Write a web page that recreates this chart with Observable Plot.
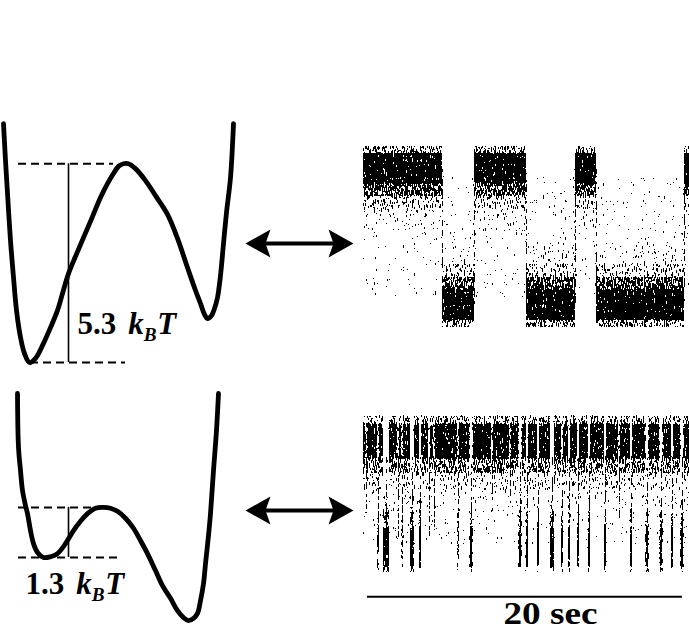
<!DOCTYPE html>
<html>
<head>
<meta charset="utf-8">
<script src="https://cdn.jsdelivr.net/npm/d3@7"></script>
<script src="https://cdn.jsdelivr.net/npm/@observablehq/plot@0.6"></script>
<style>
html, body { margin: 0; padding: 0; background: #fff; }
#fig { position: relative; width: 689px; height: 639px; overflow: hidden; background: #fff; }
#fig svg { position: absolute; left: 0; top: 0; background: transparent; overflow: visible; }
</style>
</head>
<body>
<div id="fig"></div>
<script>
// ---------------- DATA ----------------
// Barrier heights (kBT) for the two landscapes (top = slow, bottom = fast)
const barrierHeights = [5.3, 1.3];
const energyUnitLabel = "kBT";

// Top landscape: reaction coordinate (a.u.) and free energy (kBT)
const slowQ = [-2.30,-2.26,-2.22,-2.16,-2.10,-2.04,-1.96,-1.88,-1.78,-1.66,-1.50,-1.36,-1.22,-1.12,-1.00,-0.86,-0.70,-0.52,-0.36,-0.22,-0.10,0.00,0.10,0.20,0.34,0.54,0.74,0.98,1.18,1.38,1.54,1.64,1.72,1.78,1.86,1.92,1.98,2.04,2.10,2.16,2.24,2.30];
const slowE = [6.37,5.39,4.51,3.25,2.27,1.39,0.67,0.24,0.00,0.11,0.51,0.93,1.39,1.84,2.37,2.83,3.33,3.89,4.40,4.77,5.04,5.23,5.30,5.30,5.17,4.85,4.45,3.95,3.31,2.53,1.92,1.57,1.28,1.17,1.25,1.44,1.73,2.32,3.17,4.00,4.93,6.37];

// Bottom landscape
const fastQ = [-2.02,-2.00,-1.96,-1.92,-1.86,-1.82,-1.76,-1.70,-1.62,-1.50,-1.36,-1.22,-1.06,-0.90,-0.76,-0.62,-0.46,-0.30,-0.16,-0.02,0.14,0.30,0.44,0.58,0.74,0.88,1.04,1.18,1.30,1.40,1.50,1.58,1.64,1.70,1.74,1.80,1.84,1.90,1.96,2.00];
const fastE = [4.26,2.86,2.26,1.74,1.35,1.14,0.70,0.36,0.13,0.00,0.02,0.10,0.36,0.70,0.94,1.14,1.28,1.30,1.28,1.20,1.02,0.76,0.44,0.10,-0.34,-0.73,-1.06,-1.38,-1.56,-1.64,-1.58,-1.45,-1.12,-0.68,-0.16,0.57,1.14,2.26,3.30,4.26];

// Top time trace: dwells (seconds) and state
const slowDwellStart = [0, 5.02, 7.05, 10.35, 13.46, 14.79, 20.38];
const slowDwellEnd   = [5.02, 7.05, 10.35, 13.46, 14.79, 20.38, 20.7];
const slowDwellState = ["high", "low", "high", "low", "high", "low", "high"];

// Bottom time trace: brief dips out of the high state (center s, duration s, lowest level reached)
const fastDipTime     = [0.20, 0.95, 1.46, 2.22, 2.48, 3.11, 3.62, 4.19, 4.51, 6.03, 6.86, 8.19, 9.33, 9.97, 10.41, 11.11, 12.00, 12.63, 13.08, 13.65, 14.35, 15.37, 16.25, 17.02, 18.03, 18.92, 19.62, 20.25];
const fastDipDuration = [0.05, 0.07, 0.38, 0.07, 0.07, 0.25, 0.13, 0.10, 0.07, 0.07, 0.19, 0.07, 0.07, 0.19, 0.13, 0.13, 0.25, 0.10, 0.10, 0.10, 0.13, 0.13, 0.07, 0.13, 0.19, 0.19, 0.13, 0.19];
const fastDipReach    = [0.25, 0, 0, 0.10, 0.05, 0, 0, 0.09, 0.18, 0, 0, 0.27, 0.45, 0, 0, 0, 0, 0, 0, 0, 0, 0, 0.27, 0, 0, 0, 0, 0];

const traceDuration = 20.7;   // s
const scaleBarSeconds = 20;   // s
const scaleBarLabel = "20 sec";
const stateLevel = { high: 1, low: 0 };

// ---------------- BUILD ----------------
const W = 689, H = 639;
const fig = document.getElementById("fig");
const serif = "Liberation Serif, Times New Roman, serif";
const base = { width: W, height: H, margin: 0, style: "background: transparent; position: absolute; left: 0; top: 0; overflow: visible;" };

function richLabel(svg, name) {
  d3.select(svg).selectAll(`text[aria-label="${name}"]`).each(function () {
    const t = d3.select(this);
    const value = t.text();
    t.text(null);
    t.append("tspan").text(value + " ");
    t.append("tspan").attr("font-style", "italic").attr("dx", "0.14em").text(energyUnitLabel[0]);
    t.append("tspan").attr("font-style", "italic").attr("font-size", "0.62em").attr("dy", "0.36em").text(energyUnitLabel[1]);
    t.append("tspan").attr("font-style", "italic").attr("dy", "-0.22em").attr("dx", "0.02em").text(energyUnitLabel.slice(2));
  });
}

// Speckle texture: turns a mark's opacity into a density of black pixels (rendering style only)
function addGrain(svg, id, freq) {
  const s = d3.select(svg);
  const defs = s.insert("defs", ":first-child");
  const f = defs.append("filter").attr("id", id)
    .attr("filterUnits", "userSpaceOnUse").attr("x", 0).attr("y", 0).attr("width", W).attr("height", H)
    .attr("color-interpolation-filters", "sRGB");
  f.append("feTurbulence").attr("type", "fractalNoise").attr("baseFrequency", freq)
    .attr("numOctaves", 2).attr("seed", 7).attr("result", "noise");
  f.append("feColorMatrix").attr("in", "noise").attr("type", "matrix")
    .attr("values", "0 0 0 0 0  0 0 0 0 0  0 0 0 0 0  2 0 0 0 -0.5").attr("result", "n");
  f.append("feComposite").attr("in", "SourceGraphic").attr("in2", "n").attr("operator", "arithmetic")
    .attr("k1", 0).attr("k2", 1).attr("k3", -1).attr("k4", 0.49).attr("result", "d");
  f.append("feComponentTransfer").attr("in", "d").attr("result", "t")
    .append("feFuncA").attr("type", "discrete").attr("tableValues", "0 1");
  f.append("feColorMatrix").attr("in", "t").attr("type", "matrix")
    .attr("values", "0 0 0 0 0  0 0 0 0 0  0 0 0 0 0  0 0 0 1 0");
  const g = s.append("g").attr("filter", `url(#${id})`).node();
  Array.from(svg.children).filter(el => el.tagName.toLowerCase() === "g" && el !== g).forEach(el => g.appendChild(el));
}

// ---- Top landscape ----
const slowCurve = slowQ.map((q, i) => ({ q, E: slowE[i] }));
const landscapeSlow = Plot.plot({
  ...base,
  x: { domain: [-2.36, 2.36], range: [0, 236], axis: null },
  y: { domain: [0, 6.4], range: [362, 122], axis: null },
  marks: [
    Plot.ruleY([barrierHeights[0]], { x1: -2.0, x2: -0.1, stroke: "black", strokeWidth: 2, strokeDasharray: "8,5" }),
    Plot.ruleY([0], { x1: -1.76, x2: 0.14, stroke: "black", strokeWidth: 2, strokeDasharray: "8,5" }),
    Plot.ruleX([-1.0], { y1: 0, y2: barrierHeights[0], stroke: "black", strokeWidth: 1.6 }),
    Plot.line(slowCurve, { x: "q", y: "E", stroke: "black", strokeWidth: 4.8, curve: "catmull-rom" }),
    Plot.text([barrierHeights[0]], { x: -0.82, y: 0.77, text: d => d.toFixed(1), textAnchor: "start", lineAnchor: "bottom", fontFamily: serif, fontWeight: "bold", fontSize: 31, fill: "black", ariaLabel: () => "barrier-label" })
  ]
});
richLabel(landscapeSlow, "barrier-label");
fig.appendChild(landscapeSlow);

// ---- Bottom landscape ----
const fastCurve = fastQ.map((q, i) => ({ q, E: fastE[i] }));
const landscapeFast = Plot.plot({
  ...base,
  x: { domain: [-2.36, 2.36], range: [0, 236], axis: null },
  y: { domain: [-2, 4.5], range: [634, 383.75], axis: null },
  marks: [
    Plot.ruleY([barrierHeights[1]], { x1: -2.0, x2: -0.36, stroke: "black", strokeWidth: 2, strokeDasharray: "8,5" }),
    Plot.ruleY([0], { x1: -2.0, x2: 0.04, stroke: "black", strokeWidth: 2, strokeDasharray: "8,5" }),
    Plot.ruleX([-1.0], { y1: 0, y2: barrierHeights[1], stroke: "black", strokeWidth: 1.6 }),
    Plot.line(fastCurve, { x: "q", y: "E", stroke: "black", strokeWidth: 4.8, curve: "catmull-rom" }),
    Plot.text([barrierHeights[1]], { x: -1.86, y: -0.94, text: d => d.toFixed(1), textAnchor: "start", lineAnchor: "bottom", fontFamily: serif, fontWeight: "bold", fontSize: 31, fill: "black", ariaLabel: () => "barrier-label" })
  ]
});
richLabel(landscapeFast, "barrier-label");
fig.appendChild(landscapeFast);

// ---- Double-headed arrows ----
const arrowHead = (dir) => ({
  draw(ctx, size) {
    const k = Math.sqrt(size / Math.PI) / 25;
    ctx.moveTo(0, 0);
    ctx.lineTo(-dir * 25 * k, -14 * k);
    ctx.lineTo(-dir * 20 * k, 0);
    ctx.lineTo(-dir * 25 * k, 14 * k);
    ctx.closePath();
  }
});
const arrowsPlot = Plot.plot({
  ...base,
  x: { domain: [-1, 1], range: [245, 353], axis: null },
  y: { domain: [5.3, 1.3], range: [243, 510], axis: null },
  marks: [
    Plot.ruleY(barrierHeights, { x1: -0.65, x2: 0.65, stroke: "black", strokeWidth: 4 }),
    Plot.dot(barrierHeights, { x: -1, y: d => d, r: 25, symbol: arrowHead(-1), fill: "black", stroke: "none" }),
    Plot.dot(barrierHeights, { x: 1, y: d => d, r: 25, symbol: arrowHead(1), fill: "black", stroke: "none" })
  ]
});
fig.appendChild(arrowsPlot);

// ---- Band helper ----
// layers: offsets measured toward the other state, relative to the state level; op = point density
function bandMarks(dwells, layers) {
  return layers.map(L => Plot.rect(dwells, {
    x1: "start", x2: "end",
    y1: d => d.level + d.toward * L.a,
    y2: d => d.level + d.toward * L.b,
    fill: "black", fillOpacity: L.op
  }));
}

// ---- Top trace ----
const slowDwells = slowDwellStart.map((s, i) => ({
  start: s, end: slowDwellEnd[i], state: slowDwellState[i],
  level: stateLevel[slowDwellState[i]], toward: slowDwellState[i] === "high" ? -1 : 1
}));
const slowTransitions = slowDwellStart.slice(1);
const slowTrace = Plot.plot({
  ...base,
  x: { domain: [0, traceDuration], range: [363, 689], axis: null },
  y: { domain: [-0.5, 1.4], range: [371.5, 115], axis: null },
  marks: [
    ...bandMarks(slowDwells, [
      { a: -0.17, b: -0.12, op: 0.45 },
      { a: -0.12, b: 0.11, op: 0.9 },
      { a: 0.11, b: 0.2, op: 0.62 },
      { a: 0.2, b: 0.3, op: 0.33 },
      { a: 0.3, b: 0.45, op: 0.12 },
      { a: 0.45, b: 0.95, op: 0.025 }
    ]),
    Plot.ruleX(slowTransitions, { y1: stateLevel.low, y2: stateLevel.high, stroke: "black", strokeOpacity: 0.5, strokeWidth: 1.2 })
  ]
});
addGrain(slowTrace, "grain-slow", "1.1 0.22");
fig.appendChild(slowTrace);

// ---- Bottom trace ----
const fastDips = fastDipTime.map((t, i) => ({
  time: t, start: t - fastDipDuration[i] / 2, end: t + fastDipDuration[i] / 2,
  reach: fastDipReach[i], level: stateLevel.low, toward: 1
}));
const fastHigh = [];
{
  let cur = 0;
  for (const d of fastDips) {
    if (d.start > cur) fastHigh.push({ start: cur, end: d.start, level: stateLevel.high, toward: -1 });
    cur = Math.max(cur, d.end);
  }
  if (cur < traceDuration) fastHigh.push({ start: cur, end: traceDuration, level: stateLevel.high, toward: -1 });
}
const fullDips = fastDips.filter(d => d.reach <= 0.05);
const fastX = { domain: [0, traceDuration], range: [363, 689], axis: null };
const fastY = { domain: [-1, 1.4], range: [660, 396], axis: null };
const fastTrace = Plot.plot({
  ...base,
  x: fastX,
  y: fastY,
  marks: [
    ...bandMarks(fastHigh, [
      { a: -0.22, b: -0.15, op: 0.45 },
      { a: -0.15, b: 0.17, op: 0.88 },
      { a: 0.17, b: 0.3, op: 0.52 },
      { a: 0.3, b: 0.45, op: 0.24 },
      { a: 0.45, b: 0.6, op: 0.08 },
      { a: 0.6, b: 0.95, op: 0.02 }
    ]),
    ...bandMarks(fullDips, [
      { a: -0.2, b: -0.15, op: 0.45 },
      { a: -0.15, b: 0.2, op: 0.9 },
      { a: 0.2, b: 0.35, op: 0.5 },
      { a: 0.35, b: 0.5, op: 0.25 }
    ]),
    Plot.ruleX(fastDips, { x: "time", y1: "reach", y2: 0.85, stroke: "black", strokeOpacity: 0.55, strokeWidth: 1.2 })
  ]
});
addGrain(fastTrace, "grain-fast", "1.1 0.22");
fig.appendChild(fastTrace);

// ---- Scale bar ----
const scalePlot = Plot.plot({
  ...base,
  x: fastX,
  y: fastY,
  marks: [
    Plot.ruleY([scaleBarSeconds], { y: -0.42, x1: 0.25, x2: d => 0.25 + d, stroke: "black", strokeWidth: 2 }),
    Plot.text([scaleBarLabel], { x: 11.87, y: -0.664, text: d => d, textAnchor: "middle", lineAnchor: "bottom", fontFamily: serif, fontWeight: "bold", fontSize: 31, fill: "black", ariaLabel: () => "scale-label" })
  ]
});
d3.select(scalePlot).selectAll('text[aria-label="scale-label"]').attr("textLength", 94).attr("lengthAdjust", "spacingAndGlyphs");
fig.appendChild(scalePlot);
</script>
</body>
</html>
